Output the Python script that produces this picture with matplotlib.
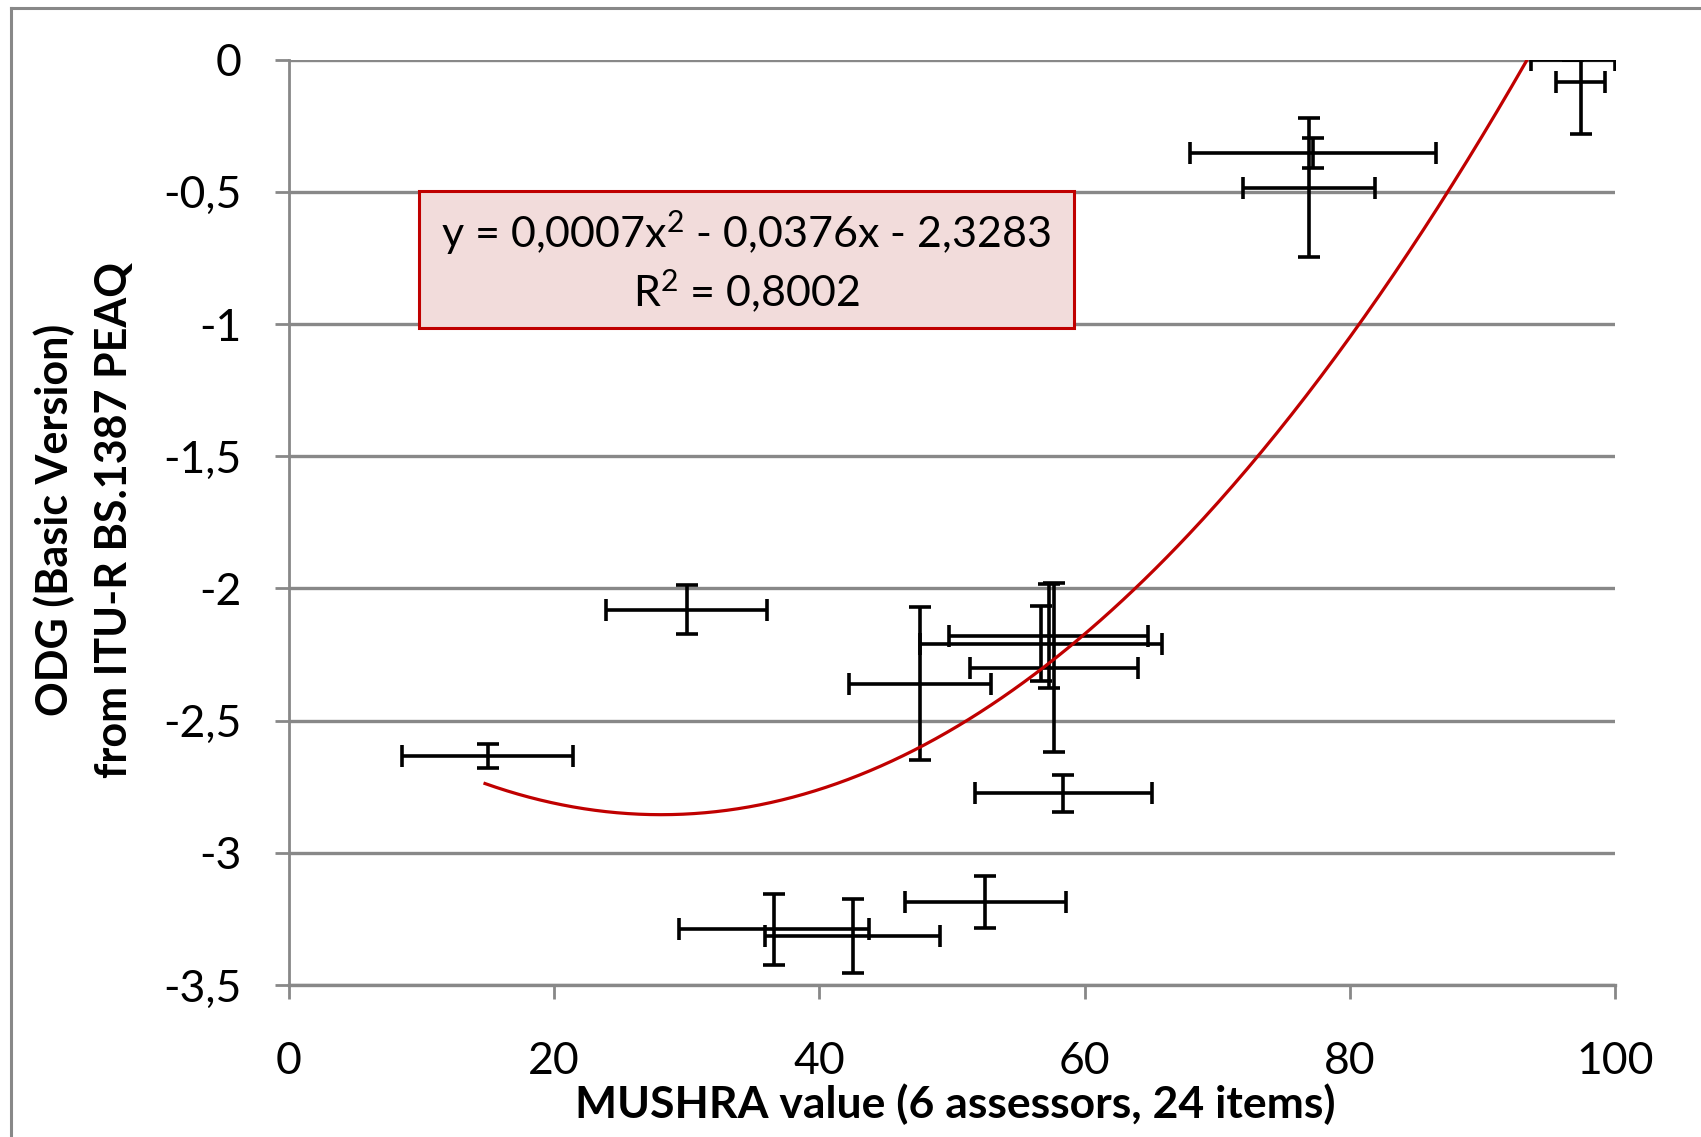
import numpy as np
import matplotlib
matplotlib.use("Agg")
import matplotlib.pyplot as plt
from matplotlib.lines import Line2D
from matplotlib.patches import Rectangle

plt.rcParams['font.family'] = ['Lato', 'DejaVu Sans']
plt.rcParams['mathtext.fontset'] = 'custom'
plt.rcParams['mathtext.rm'] = 'Lato'
plt.rcParams['mathtext.it'] = 'Lato'
plt.rcParams['mathtext.default'] = 'rm'

# MUSHRA mean, ODG mean and their error bar half-widths
mushra = [96.8, 97.4, 77.2, 76.9, 30.0, 15.0, 56.7, 57.3, 57.7, 47.6, 58.4, 52.5, 36.6, 42.5]
odg = [0.0, -0.083, -0.354, -0.484, -2.08, -2.634, -2.209, -2.18, -2.30, -2.36, -2.775, -3.186, -3.29, -3.314]
mushra_err = [3.2, 1.85, 9.3, 5.0, 6.09, 6.46, 9.1, 7.5, 6.35, 5.34, 6.65, 6.07, 7.16, 6.62]
odg_err = [0.0, 0.199, 0.056, 0.263, 0.092, 0.044, 0.142, 0.197, 0.32, 0.29, 0.07, 0.099, 0.134, 0.141]

# 2nd order polynomial trendline
trend_coef = [0.00067, -0.0376, -2.3283]
trend_lines = ["y = 0,0007x$^{2}$ - 0,0376x - 2,3283", "R$^{2}$ = 0,8002"]

x_ticks = [0, 20, 40, 60, 80, 100]
y_ticks = [0, -0.5, -1, -1.5, -2, -2.5, -3, -3.5]
y_tick_labels = ["0", "-0,5", "-1", "-1,5", "-2", "-2,5", "-3", "-3,5"]

grid_col = "#888888"
W, H = 1701, 1137

fig = plt.figure(figsize=(17.01, 11.37), dpi=100)
ax = fig.add_axes([0.1697, 0.1337, 0.7800, 0.8138])

for s in ["top", "right"]:
    ax.spines[s].set_visible(False)
ax.spines["left"].set_color(grid_col)
ax.spines["left"].set_linewidth(2.0)
ax.spines["bottom"].set_color(grid_col)
ax.spines["bottom"].set_linewidth(2.4)

ax.set_xlim(0, 100)
ax.set_ylim(-3.5, 0)
ax.set_xticks(x_ticks)
ax.set_yticks(y_ticks)
ax.set_yticklabels(y_tick_labels)
ax.yaxis.grid(True, color=grid_col, linewidth=2.4)
ax.set_axisbelow(True)
ax.tick_params(axis="both", colors=grid_col, length=10, width=2.0,
               labelsize=32, labelcolor="black")
ax.tick_params(axis="y", pad=24)
ax.tick_params(axis="x", pad=30)

ax.errorbar(mushra, odg, xerr=mushra_err, yerr=odg_err, fmt="none",
            ecolor="black", elinewidth=2.6, capsize=8, capthick=2.6, zorder=3)

xs = np.linspace(min(mushra) - 0.2, max(mushra), 300)
ax.plot(xs, np.polyval(trend_coef, xs), color="#C00000", linewidth=2.3, zorder=4)

# trendline label box
fig.add_artist(Rectangle((419 / W, 1 - 327.6 / H), (1074 - 419) / W, 136.6 / H,
                         transform=fig.transFigure, facecolor="#F2DCDB",
                         edgecolor="#C00000", linewidth=2.2, zorder=5))
fig.text(746 / W, 1 - 233 / H, trend_lines[0], ha="center", va="center",
         fontsize=31, zorder=6)
fig.text(746 / W, 1 - 291 / H, trend_lines[1], ha="center", va="center",
         fontsize=31, zorder=6)

fig.text(54 / W, 1 - 520 / H, "ODG (Basic Version)", rotation=90,
         ha="center", va="center", fontsize=31, fontweight="bold")
fig.text(114 / W, 1 - 520 / H, "from ITU-R BS.1387 PEAQ", rotation=90,
         ha="center", va="center", fontsize=31, fontweight="bold")
fig.text(955 / W, 1 - 1104 / H, "MUSHRA value (6 assessors, 24 items)",
         ha="center", va="center", fontsize=32, fontweight="bold")

# outer chart frame (only left and top edges are visible in the crop)
fig.add_artist(Line2D([11 / W, 11 / W], [0, 1 - 8 / H],
                      transform=fig.transFigure, color=grid_col, linewidth=2.2))
fig.add_artist(Line2D([11 / W, 1], [1 - 8 / H, 1 - 8 / H],
                      transform=fig.transFigure, color=grid_col, linewidth=2.2))

fig.savefig("out.png", dpi=100)
